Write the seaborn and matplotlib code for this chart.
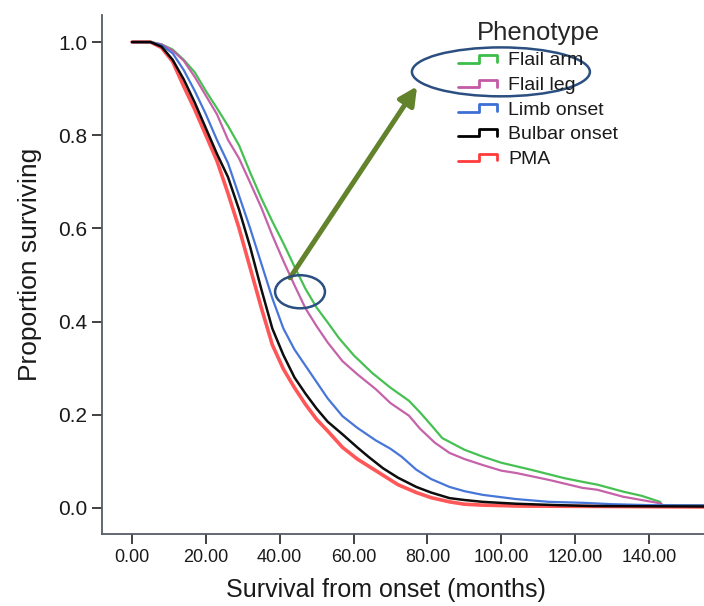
import matplotlib
matplotlib.use("Agg")
import matplotlib.pyplot as plt
from matplotlib.lines import Line2D
from matplotlib.legend_handler import HandlerBase
from matplotlib.patches import Ellipse
import seaborn as sns
import pandas as pd

# ---- data ----
phenotypes = ["Flail arm", "Flail leg", "Limb onset", "Bulbar onset", "PMA"]
colors = ["#3dbd4a", "#c25aa6", "#3d6fd6", "#000000", "#ff3a3a"]

flail_arm_m = [0, 5, 8, 11, 14, 17, 20, 23, 26, 29, 32, 35, 38, 41, 44, 47, 50, 53, 56, 60,
               65, 70, 75, 78, 81, 84, 90, 95, 100, 108, 117, 122, 126, 133, 138, 143, 143.5, 156]
flail_arm_s = [1.0, 1.0, 0.995, 0.984, 0.962, 0.935, 0.895, 0.858, 0.82, 0.778, 0.72, 0.665,
               0.615, 0.568, 0.518, 0.47, 0.43, 0.398, 0.365, 0.328, 0.29, 0.258, 0.23, 0.205,
               0.178, 0.15, 0.125, 0.11, 0.097, 0.082, 0.064, 0.056, 0.05, 0.035, 0.026, 0.013,
               0.006, 0.006]

flail_leg_m = [0, 5, 8, 11, 14, 17, 20, 23, 26, 29, 32, 35, 38, 41, 44, 47, 50, 53, 57, 61,
               66, 70, 75, 78, 82, 86, 90, 95, 100, 104, 113, 122, 126, 133, 138, 143, 144, 156]
flail_leg_s = [1.0, 1.0, 0.995, 0.982, 0.96, 0.925, 0.885, 0.845, 0.79, 0.75, 0.698, 0.645,
               0.585, 0.53, 0.478, 0.428, 0.39, 0.355, 0.315, 0.287, 0.255, 0.225, 0.198, 0.17,
               0.14, 0.118, 0.105, 0.092, 0.08, 0.075, 0.06, 0.043, 0.039, 0.024, 0.017, 0.01,
               0.005, 0.005]

limb_m = [0, 5, 8, 11, 14, 17, 20, 23, 26, 29, 32, 35, 38, 41, 44, 47, 50, 53, 57, 61, 66,
          70, 73, 77, 81, 86, 90, 95, 100, 104, 113, 122, 130, 140, 156]
limb_s = [1.0, 1.0, 0.993, 0.976, 0.94, 0.895, 0.845, 0.79, 0.74, 0.67, 0.6, 0.525, 0.45,
          0.385, 0.34, 0.305, 0.27, 0.235, 0.197, 0.172, 0.145, 0.127, 0.11, 0.082, 0.062,
          0.045, 0.036, 0.028, 0.023, 0.019, 0.013, 0.011, 0.008, 0.006, 0.005]

bulbar_m = [0, 5, 8, 11, 14, 17, 20, 23, 26, 29, 32, 35, 38, 41, 44, 47, 50, 53, 57, 61, 64,
            68, 72, 77, 81, 86, 90, 95, 104, 115, 125, 156]
bulbar_s = [1.0, 1.0, 0.99, 0.962, 0.92, 0.87, 0.815, 0.76, 0.71, 0.64, 0.56, 0.47, 0.385,
            0.328, 0.28, 0.245, 0.213, 0.185, 0.158, 0.13, 0.11, 0.085, 0.065, 0.045, 0.033,
            0.021, 0.017, 0.013, 0.009, 0.006, 0.004, 0.003]

pma_m = [0, 5, 8, 11, 14, 17, 20, 23, 26, 29, 32, 35, 38, 41, 44, 47, 50, 53, 57, 61, 64,
         68, 72, 77, 81, 86, 90, 95, 105, 156]
pma_s = [1.0, 1.0, 0.988, 0.958, 0.905, 0.855, 0.8, 0.745, 0.675, 0.6, 0.515, 0.43, 0.35,
         0.298, 0.258, 0.222, 0.19, 0.165, 0.13, 0.105, 0.09, 0.07, 0.05, 0.033, 0.022,
         0.013, 0.008, 0.006, 0.004, 0.002]

x_ticks = [0, 20, 40, 60, 80, 100, 120, 140]
x_tick_labels = ["0.00", "20.00", "40.00", "60.00", "80.00", "100.00", "120.00", "140.00"]
y_ticks = [0.0, 0.2, 0.4, 0.6, 0.8, 1.0]
y_tick_labels = ["0.0", "0.2", "0.4", "0.6", "0.8", "1.0"]

series = {
    "Flail arm": (flail_arm_m, flail_arm_s),
    "Flail leg": (flail_leg_m, flail_leg_s),
    "Limb onset": (limb_m, limb_s),
    "Bulbar onset": (bulbar_m, bulbar_s),
    "PMA": (pma_m, pma_s),
}
rows = []
for name, (ms, ss) in series.items():
    for m, s in zip(ms, ss):
        rows.append({"month": m, "survival": s, "Phenotype": name})
df = pd.DataFrame(rows)

# ---- style ----
sns.set_theme(style="ticks")
plt.rcParams["font.family"] = ["Liberation Sans", "DejaVu Sans"]

fig = plt.figure(figsize=(7.04, 6.06), dpi=100)
ax = fig.add_axes([0.1445, 0.1188, 0.8555, 0.8564])

palette = dict(zip(phenotypes, colors))
widths = {"Flail arm": 1.6, "Flail leg": 1.6, "Limb onset": 1.6, "Bulbar onset": 1.8, "PMA": 2.6}
zorders = {"Flail arm": 3, "Flail leg": 3, "Limb onset": 3.2, "Bulbar onset": 3.4, "PMA": 2.5}
for name in phenotypes:
    sub = df[df["Phenotype"] == name]
    sns.lineplot(data=sub, x="month", y="survival", color=palette[name],
                 lw=widths[name], ax=ax, errorbar=None, zorder=zorders[name],
                 legend=False, alpha=0.95 if name != "PMA" else 0.85)

ax.set_xlim(-8.2, 154.9)
ax.set_ylim(-0.056, 1.058)
ax.set_xticks(x_ticks)
ax.set_xticklabels(x_tick_labels, fontsize=13)
ax.set_yticks(y_ticks)
ax.set_yticklabels(y_tick_labels, fontsize=15)
ax.tick_params(axis="both", direction="out", length=7.5, width=1.3, colors="#333333",
               labelcolor="#1a1a1a")
ax.tick_params(axis="x", pad=3)
ax.tick_params(axis="y", pad=3)
ax.set_xlabel("Survival from onset (months)", fontsize=18, color="#1a1a1a")
ax.set_ylabel("Proportion surviving", fontsize=19, color="#1a1a1a")
ax.xaxis.set_label_coords(0.472, -0.085)
ax.yaxis.set_label_coords(-0.100, 0.519)
sns.despine(ax=ax)
for sp in ("left", "bottom"):
    ax.spines[sp].set_color("#555d66")
    ax.spines[sp].set_linewidth(1.3)


# ---- step-shaped legend handles ----
class StepHandler(HandlerBase):
    def create_artists(self, legend, orig_handle, xdescent, ydescent, width, height,
                       fontsize, trans):
        x0, y0 = -xdescent, -ydescent
        lo, hi = y0 + 0.2 * height, y0 + 0.75 * height
        xm = x0 + 0.55 * width
        xs = [x0, xm, xm, x0 + width, x0 + width]
        ys = [lo, lo, hi, hi, lo + 0.05 * height]
        ln = Line2D(xs, ys, color=orig_handle.get_color(), lw=orig_handle.get_linewidth())
        ln.set_transform(trans)
        return [ln]


handles = [Line2D([], [], color=palette[n], lw=2.0) for n in phenotypes]
leg = fig.legend(handles, phenotypes, title="Phenotype", loc="upper left",
                 bbox_to_anchor=(448 / 704, 1 - 11 / 606), frameon=False, fontsize=14,
                 title_fontsize=18.5, handlelength=2.0, handletextpad=0.6, labelspacing=0.36,
                 borderpad=0.0, handler_map={Line2D: StepHandler()})
for t in leg.get_texts():
    t.set_color("#1a1a1a")

# ---- annotations from the reference (arrow and ellipses) ----
ax.annotate("", xy=(77.2, 0.905), xytext=(42.8, 0.494),
            arrowprops=dict(arrowstyle="-|>,head_length=0.9,head_width=0.45",
                            color="#62832b", lw=3.6, shrinkA=0, shrinkB=0), zorder=6)
ax.add_patch(Ellipse((45.5, 0.464), 13.5, 0.071, fill=False, ec="#2b4f80", lw=1.8, zorder=6))
ax.add_patch(Ellipse((99.9, 0.936), 48.2, 0.105, fill=False, ec="#2b4f80", lw=1.8, zorder=6,
                     clip_on=False))

fig.savefig("out.png", dpi=100)
